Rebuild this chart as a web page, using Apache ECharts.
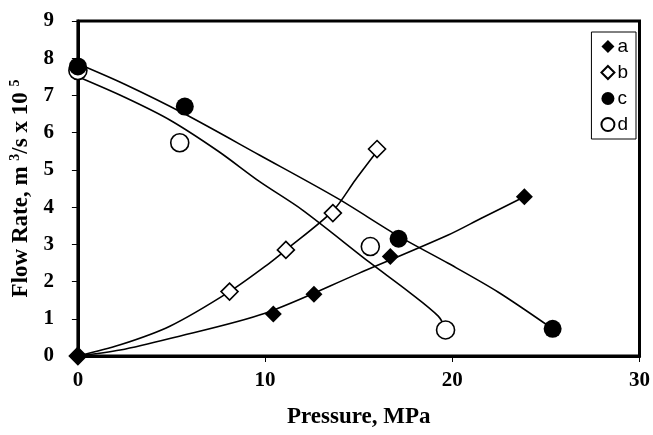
<!DOCTYPE html>
<html><head><meta charset="utf-8">
<script src="https://cdn.jsdelivr.net/npm/echarts@6/dist/echarts.min.js"></script>
<style>html,body{margin:0;padding:0;background:#fff}#c{width:653px;height:435px}</style>
</head><body><div id="c"></div>
<script>
// Measured points
const aX = [0, 10.44, 12.61, 16.69, 23.85];
const aY = [0, 1.13, 1.66, 2.67, 4.28];
const bX = [0, 8.1, 11.11, 13.62, 15.98];
const bY = [0, 1.73, 2.85, 3.84, 5.56];
const cX = [0, 5.71, 17.13, 25.36];
const cY = [7.78, 6.70, 3.15, 0.73];
const dX = [0, 5.44, 15.62, 19.64];
const dY = [7.67, 5.73, 2.94, 0.70];
// Trend lines
const aTX = [0, 2.26, 4.91, 10, 15, 19.78, 21.55, 23.85];
const aTY = [0, 0.16, 0.47, 1.15, 2.22, 3.25, 3.7, 4.28];
const bTX = [0, 2.26, 4.91, 8.1, 10.22, 11.11, 13.62, 14.82, 15.98];
const bTY = [0, 0.3, 0.8, 1.73, 2.49, 2.85, 3.9, 4.73, 5.5];
const cTX = [0, 2.5, 5.71, 9.69, 13.85, 17.13, 19.78, 22.44, 25.36];
const cTY = [7.85, 7.3, 6.5, 5.4, 4.24, 3.22, 2.49, 1.72, 0.73];
const dTX = [0, 2.5, 4.91, 7.5, 9.69, 12, 15.62, 17.66, 19.25, 19.64];
const dTY = [7.5, 6.95, 6.34, 5.5, 4.69, 3.92, 2.5, 1.73, 1.07, 0.72];
const xTicks = [0, 10, 20, 30];
const yTicks = [0, 1, 2, 3, 4, 5, 6, 7, 8, 9];

const zip = (xs, ys) => xs.map((x, i) => [x, ys[i]]);
const serif = '"Liberation Serif", "Times New Roman", serif';
const trend = (xs, ys) => ({
  type: 'line', data: zip(xs, ys), smooth: 0.3, showSymbol: false, silent: true,
  lineStyle: { color: '#000', width: 1.6 }, z: 2
});
const chart = echarts.init(document.getElementById('c'));
chart.setOption({
  animation: false,
  grid: { left: 77.5, right: 11, top: 21, bottom: 79, show: true, borderColor: '#000', borderWidth: 3, backgroundColor: 'transparent' },
  xAxis: {
    type: 'value', min: xTicks[0], max: xTicks[xTicks.length - 1], interval: 10,
    name: 'Pressure, MPa', nameLocation: 'middle', nameGap: 50,
    nameTextStyle: { fontFamily: serif, fontWeight: 'bold', fontSize: 23, color: '#000' },
    axisLine: { lineStyle: { color: '#000', width: 3 } },
    axisTick: { show: true, length: 6, lineStyle: { color: '#000', width: 1 } },
    axisLabel: { fontFamily: serif, fontWeight: 'bold', fontSize: 21, color: '#000', margin: 14 },
    splitLine: { show: false }
  },
  yAxis: {
    type: 'value', min: yTicks[0], max: yTicks[yTicks.length - 1], interval: 1,
    name: '{b|Flow Rate, m }{s|3}{b|/s x 10 }{s|5}', nameLocation: 'middle', nameGap: 41,
    nameTextStyle: { rich: {
      b: { fontFamily: serif, fontWeight: 'bold', fontSize: 23, color: '#000' },
      s: { fontFamily: serif, fontWeight: 'bold', fontSize: 14, color: '#000', padding: [0, 0, 12, 0] }
    } },
    axisLine: { lineStyle: { color: '#000', width: 3 } },
    axisTick: { show: true, length: 6, lineStyle: { color: '#000', width: 1 } },
    axisLabel: { fontFamily: serif, fontWeight: 'bold', fontSize: 21, color: '#000', margin: 24 },
    splitLine: { show: false }
  },
  legend: {
    orient: 'vertical', right: 17, top: 32, data: ['a', 'b', 'c', 'd'],
    itemWidth: 13, itemHeight: 13, itemGap: 7,
    padding: [5, 8, 5, 9], borderColor: '#000', borderWidth: 1, backgroundColor: '#fff',
    textStyle: { fontFamily: '"Liberation Sans", Arial, sans-serif', fontSize: 19, color: '#000', padding: [0, 0, 0, -2] }
  },
  series: [
    trend(aTX, aTY), trend(bTX, bTY), trend(cTX, cTY), trend(dTX, dTY),
    { name: 'a', type: 'scatter', data: zip(aX, aY), symbol: 'diamond', symbolSize: 17, z: 5,
      itemStyle: { color: '#000', opacity: 1 } },
    { name: 'b', type: 'scatter', data: zip(bX, bY), symbol: 'diamond', symbolSize: 17, z: 4,
      itemStyle: { color: '#fff', borderColor: '#000', borderWidth: 1.6, opacity: 1 } },
    { name: 'c', type: 'scatter', data: zip(cX, cY), symbol: 'circle', symbolSize: 18, z: 5,
      itemStyle: { color: '#000', opacity: 1 } },
    { name: 'd', type: 'scatter', data: zip(dX, dY), symbol: 'circle', symbolSize: 18, z: 4,
      itemStyle: { color: '#fff', borderColor: '#000', borderWidth: 1.6, opacity: 1 } }
  ]
});
</script></body></html>
